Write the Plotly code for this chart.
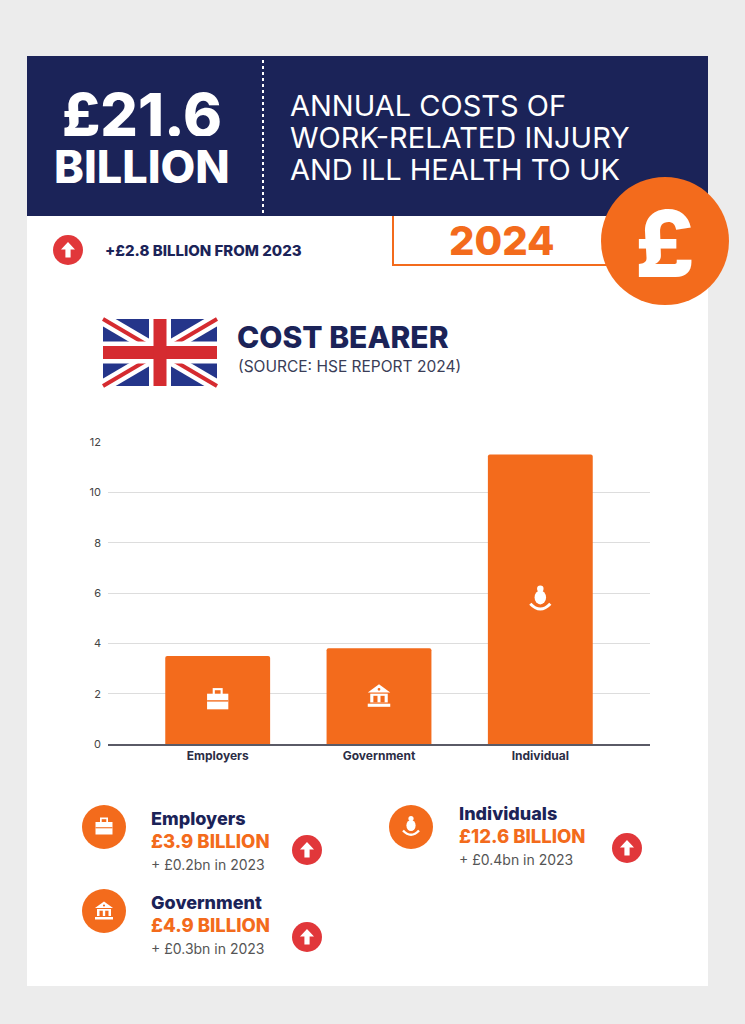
import plotly.graph_objects as go

# canvas
W, H = 745, 1024
NAVY = "#1b2358"
ORANGE = "#f36b1c"
RED = "#e1373a"
FONT = "Inter"

# data
bearers = ["Employers", "Government", "Individual"]
cost_bn = [3.5, 3.8, 11.5]
y_ticks = [0, 2, 4, 6, 8, 10, 12]

headline_total = "£21.6"
headline_unit = "BILLION"
header_lines = ["ANNUAL COSTS OF", "WORK-RELATED INJURY", "AND ILL HEALTH TO UK"]
headline_change = "+£2.8 BILLION FROM 2023"
report_year = "2024"
section_title = "COST BEARER"
section_source = "(SOURCE: HSE REPORT 2024)"

summary_names = ["Employers", "Government", "Individuals"]
summary_totals = ["£3.9 BILLION", "£4.9 BILLION", "£12.6 BILLION"]
summary_changes = ["+ £0.2bn in 2023", "+ £0.3bn in 2023", "+ £0.4bn in 2023"]
summary_icons = ["briefcase", "bank", "person"]


def px(x):
    return x / W


def py(y):
    return 1 - y / H


shapes = []
annotations = []


def rect(x0, y0, x1, y1, fill, layer="above"):
    shapes.append(dict(type="rect", xref="paper", yref="paper",
                       x0=px(x0), x1=px(x1), y0=py(y1), y1=py(y0),
                       fillcolor=fill, line_width=0, layer=layer))


def ellipse(cx, cy, rx, ry, fill, layer="above"):
    shapes.append(dict(type="circle", xref="paper", yref="paper",
                       x0=px(cx - rx), x1=px(cx + rx), y0=py(cy + ry), y1=py(cy - ry),
                       fillcolor=fill, line_width=0, layer=layer))


def line(x0, y0, x1, y1, color, width, dash=None, layer="above"):
    shapes.append(dict(type="line", xref="paper", yref="paper",
                       x0=px(x0), x1=px(x1), y0=py(y0), y1=py(y1),
                       line=dict(color=color, width=width, dash=dash), layer=layer))


def poly(pts, fill, layer="above"):
    d = "M " + " L ".join("{:.5f},{:.5f}".format(px(x), py(y)) for x, y in pts) + " Z"
    shapes.append(dict(type="path", xref="paper", yref="paper", path=d,
                       fillcolor=fill, line_width=0, layer=layer))


def text(x, y, s, size, color, bold=False, xanchor="left", box_h=None):
    a = dict(x=px(x), y=py(y), xref="paper", yref="paper", text=s,
             showarrow=False, xanchor=xanchor, yanchor="middle", borderpad=0,
             font=dict(family=FONT, size=size, color=color,
                       weight=800 if bold else 400))
    if box_h:
        a["height"] = box_h
    annotations.append(a)


# ---- icons (s = pixels per icon unit) ----
def briefcase(cx, cy, s, bg):
    rect(cx - 4 * s, cy - 9.5 * s, cx + 4 * s, cy - 4 * s, "white")
    rect(cx - 2.3 * s, cy - 7.8 * s, cx + 2.3 * s, cy - 4 * s, bg)
    rect(cx - 8.5 * s, cy - 5 * s, cx + 8.5 * s, cy + 7.5 * s, "white")
    rect(cx - 8.5 * s, cy + 0.2 * s, cx + 8.5 * s, cy + 1.3 * s, bg)


def bank(cx, cy, s, bg):
    poly([(cx - 9 * s, cy - 3 * s), (cx, cy - 9.5 * s), (cx + 9 * s, cy - 3 * s)], "white")
    ellipse(cx, cy - 5.5 * s, 1.1 * s, 1.1 * s, bg)
    rect(cx - 7 * s, cy - 2 * s, cx + 7 * s, cy + 5 * s, "white")
    rect(cx - 4.5 * s, cy - 0.3 * s, cx - 1.2 * s, cy + 5 * s, bg)
    rect(cx + 1.2 * s, cy - 0.3 * s, cx + 4.5 * s, cy + 5 * s, bg)
    rect(cx - 9 * s, cy + 6 * s, cx + 9 * s, cy + 8.5 * s, "white")


def person(cx, cy, s, bg):
    ellipse(cx, cy - 8.5 * s, 2.6 * s, 2.6 * s, "white")
    ellipse(cx, cy - 1.5 * s, 4.6 * s, 5.6 * s, "white")
    d = "M {:.5f},{:.5f} Q {:.5f},{:.5f} {:.5f},{:.5f}".format(
        px(cx - 8 * s), py(cy + 3.5 * s), px(cx), py(cy + 12 * s),
        px(cx + 8 * s), py(cy + 3.5 * s))
    shapes.append(dict(type="path", xref="paper", yref="paper", path=d,
                       line=dict(color="white", width=2.4 * s), layer="above"))


ICONS = {"briefcase": briefcase, "bank": bank, "person": person}


def up_badge(cx, cy, r=15):
    ellipse(cx, cy, r, r, RED)
    k = r / 15.0
    poly([(cx - 2.6 * k, cy + 7.5 * k), (cx - 2.6 * k, cy - 0.5 * k), (cx - 7 * k, cy - 0.5 * k),
          (cx, cy - 8 * k), (cx + 7 * k, cy - 0.5 * k), (cx + 2.6 * k, cy - 0.5 * k),
          (cx + 2.6 * k, cy + 7.5 * k)], "white")


# ---- card + header ----
rect(27, 56, 708, 986, "white", layer="below")
rect(27, 56, 708, 216, NAVY, layer="below")
line(263, 60, 263, 214, "white", 2, dash="dot")

text(142, 114, headline_total, 59, "white", bold=True, xanchor="center", box_h=44)
text(142, 166, headline_unit, 45, "white", bold=True, xanchor="center", box_h=34)
for i, s in enumerate(header_lines):
    text(289, 105 + 32 * i, s, 29, "white", box_h=30)

up_badge(68, 250, 15)
text(104, 250, headline_change, 15, NAVY, bold=True)

line(393, 216, 393, 265, ORANGE, 2)
line(392, 265, 630, 265, ORANGE, 2)
text(502, 240, report_year, 40, ORANGE, bold=True, xanchor="center")

ellipse(665, 241, 64, 64, ORANGE)
text(665, 243, "£", 92, "white", bold=True, xanchor="center")

# ---- union flag ----
fx0, fy0, fx1, fy1 = 103, 319, 217, 386
rect(fx0, fy0, fx1, fy1, "#24358a")
line(fx0, fy0, fx1, fy1, "white", 13)
line(fx0, fy1, fx1, fy0, "white", 13)
line(fx0, fy0, fx1, fy1, "#d52b30", 4)
line(fx0, fy1, fx1, fy0, "#d52b30", 4)
rect(fx0, 341.5, fx1, 363.5, "white")
rect(149, fy0, 171, fy1, "white")
rect(fx0, 346, fx1, 359, "#d52b30")
rect(153.5, fy0, 166.5, fy1, "#d52b30")

text(236, 337, section_title, 30, NAVY, bold=True)
text(237, 366, section_source, 15.5, "#3a3d57")

# ---- bar chart ----
X_L, X_R, Y_B, Y_T = 108, 650, 744, 442
X_RANGE = [-0.68, 2.68]

fig = go.Figure(go.Bar(
    x=bearers, y=cost_bn, width=0.65,
    marker=dict(color=ORANGE, line_width=0, cornerradius=2),
    hoverinfo="x+y",
))

# icons centred on each bar
for i, v in enumerate(cost_bn):
    bx = X_L + (i - X_RANGE[0]) / (X_RANGE[1] - X_RANGE[0]) * (X_R - X_L)
    by = Y_B - v / 2 / 12 * (Y_B - Y_T)
    ICONS[summary_icons[i]](bx, by, 1.25, ORANGE)

# ---- summary blocks ----
blocks = [(104, 150, 818, 307, 850), (104, 150, 902, 307, 937), (411, 458, 813, 627, 848)]
for i, (cx, tx, ty, ax, ay) in enumerate(blocks):
    ccy = ty + 9 if i < 2 else ty + 14
    ellipse(cx, ccy, 22, 22, ORANGE)
    ICONS[summary_icons[i]](cx, ccy, 1.0, ORANGE)
    text(tx, ty, summary_names[i], 18, NAVY, bold=True)
    text(tx, ty + 23, summary_totals[i], 18.5, ORANGE, bold=True)
    text(tx, ty + 46, summary_changes[i], 14, "#555555")
    up_badge(ax, ay, 15)

fig.update_layout(
    width=W, height=H,
    margin=dict(l=0, r=0, t=0, b=0, pad=0, autoexpand=False),
    paper_bgcolor="#ececec",
    plot_bgcolor="rgba(0,0,0,0)",
    showlegend=False,
    bargap=0.35,
    shapes=shapes,
    annotations=annotations,
    font=dict(family=FONT),
    xaxis=dict(
        domain=[px(X_L), px(X_R)], range=X_RANGE, type="category",
        showgrid=False, showline=True, linecolor="#5a5a66", linewidth=1.5,
        ticks="", tickfont=dict(size=12, color="#2b2d45", weight=700),
        fixedrange=True, automargin=False,
    ),
    yaxis=dict(
        domain=[py(Y_B), py(Y_T)], range=[0, 12], tickvals=y_ticks,
        showgrid=True, gridcolor="#dddddd", gridwidth=1, zeroline=False,
        showline=False, ticks="", ticklabelstandoff=6,
        tickfont=dict(size=11, color="#444444"), fixedrange=True, automargin=False,
    ),
)

# pin the figure to the window's top-left corner (no body margin, no scrolling)
fig.write_html(
    "out.html",
    config={"displayModeBar": False},
    post_script=(
        "document.body.style.margin='0';"
        "var gd=document.getElementById('{plot_id}');"
        "gd.style.position='fixed';gd.style.left='0px';gd.style.top='0px';"
    ),
)
